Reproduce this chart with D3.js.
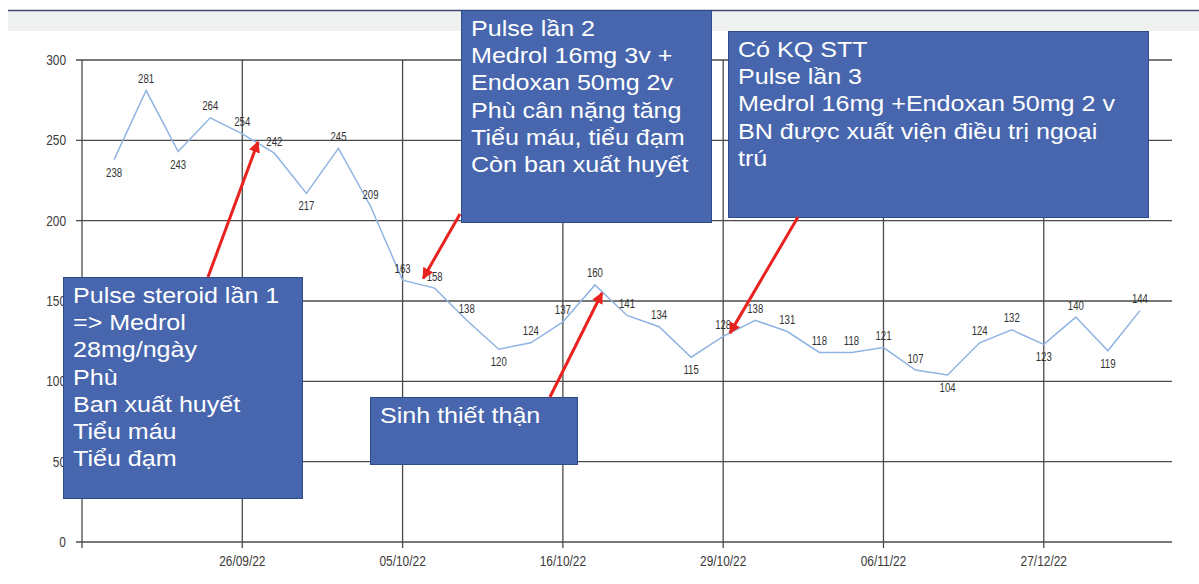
<!DOCTYPE html>
<html>
<head>
<meta charset="utf-8">
<script src="https://cdn.jsdelivr.net/npm/d3@7"></script>
<style>
html,body{margin:0;padding:0;background:#fff;}
svg{display:block;}
</style>
</head>
<body>
<svg id="chart" width="1199" height="584"></svg>
<script>
// ---- data ----
const values = [238,281,243,264,254,242,217,245,209,163,158,138,120,124,137,160,141,134,115,128,138,131,118,118,121,107,104,124,132,123,140,119,144];
const tickIndex = [4,9,14,19,24,29];
const tickLabels = ["26/09/22","05/10/22","16/10/22","29/10/22","06/11/22","27/12/22"];
const yTicks = [0,50,100,150,200,250,300];

const boxTexts = [
  ["Pulse steroid lần 1","=> Medrol","28mg/ngày","Phù","Ban xuất huyết","Tiểu máu","Tiểu đạm"],
  ["Pulse lần 2","Medrol 16mg 3v +","Endoxan 50mg 2v","Phù cân nặng tăng","Tiểu máu, tiểu đạm","Còn ban xuất huyết"],
  ["Có KQ STT","Pulse lần 3","Medrol 16mg +Endoxan 50mg 2 v","BN được xuất viện điều trị ngoại","trú"],
  ["Sinh thiết thận"]
];
// arrow targets in data space: [index position, value]
const arrowTargets = [[4.49,249],[9.64,164],[15.22,155],[19.21,130]];

// ---- layout ----
const boxRects = [
  {x:63,y:277,w:239,h:221},
  {x:461,y:10,w:250,h:212},
  {x:728,y:31,w:420,h:186},
  {x:370,y:397,w:207,h:67}
];
const arrowTails = [[208,277],[460,214],[550,397],[798,217]];

const svg = d3.select("#chart");
const x = d3.scalePoint().domain(d3.range(values.length)).range([82,1172]).padding(1);
const y = d3.scaleLinear().domain([0,300]).range([542,60]);
const xi = i => 82 + (1172-82)/(values.length+1)*(i+1);

// top band
svg.append("rect").attr("x",8).attr("y",10).attr("width",1191).attr("height",21).attr("fill","#eff1f1");
svg.append("line").attr("x1",8).attr("x2",1199).attr("y1",10.5).attr("y2",10.5).attr("stroke","#3d4866").attr("stroke-width",1.5);

const gridColor = "#4a4a4a";
// horizontal grid
svg.append("g").selectAll("line").data(yTicks).join("line")
  .attr("x1",76).attr("x2",1172)
  .attr("y1",d=>y(d)).attr("y2",d=>y(d))
  .attr("stroke",gridColor).attr("stroke-width",1.3);
// y axis line
svg.append("line").attr("x1",82).attr("x2",82).attr("y1",y(300)).attr("y2",y(0)+6)
  .attr("stroke",gridColor).attr("stroke-width",1.3);
// vertical grid
svg.append("g").selectAll("line").data(tickIndex).join("line")
  .attr("x1",d=>x(d)).attr("x2",d=>x(d))
  .attr("y1",y(300)).attr("y2",y(0)+6)
  .attr("stroke",gridColor).attr("stroke-width",1.3);

function sText(g, tx, ty, str, size, sx, anchor, color){
  return g.append("text")
    .attr("transform",`translate(${tx},${ty}) scale(${sx},1)`)
    .attr("text-anchor",anchor)
    .attr("dominant-baseline","central")
    .attr("font-family","'Liberation Sans', Arial, sans-serif")
    .attr("font-size",size)
    .attr("fill",color)
    .text(str);
}
const axisG = svg.append("g");
yTicks.forEach(t => sText(axisG, 66, y(t), t, 14, 0.85, "end", "#3a3a3a"));
tickIndex.forEach((t,i) => sText(axisG, x(t), 561, tickLabels[i], 14, 0.85, "middle", "#3a3a3a"));

// line
const line = d3.line().x((d,i)=>x(i)).y(d=>y(d));
svg.append("path").datum(values).attr("d",line)
  .attr("fill","none").attr("stroke","#8fb4e3").attr("stroke-width",1.5);

// data labels
const lblG = svg.append("g");
values.forEach((v,i) => {
  const prev = i>0 ? values[i-1] : Infinity;
  const next = i<values.length-1 ? values[i+1] : Infinity;
  const below = v < prev && v < next;
  sText(lblG, x(i), y(v) + (below ? 12.5 : -12), v, 13, 0.74, "middle", "#333");
});

// boxes
boxRects.forEach((b,k) => {
  const g = svg.append("g");
  g.append("rect").attr("x",b.x+0.5).attr("y",b.y+0.5).attr("width",b.w).attr("height",b.h)
    .attr("fill","#4766ad").attr("stroke","#2e4a88").attr("stroke-width",1);
  boxTexts[k].forEach((t,j) => {
    g.append("text")
      .attr("transform",`translate(${b.x+10},${b.y+26+j*27.2}) scale(1.14,1)`)
      .attr("font-family","'Liberation Sans', Arial, sans-serif")
      .attr("font-size",22).attr("fill","#fff").text(t);
  });
});

// arrows
const defs = svg.append("defs");
defs.append("marker").attr("id","ah").attr("viewBox","0 0 10 10").attr("refX",9).attr("refY",5)
  .attr("markerWidth",3.8).attr("markerHeight",3.8).attr("orient","auto")
  .append("path").attr("d","M0,0L10,5L0,10Z").attr("fill","#e8231f");
arrowTargets.forEach((t,k) => {
  svg.append("line")
    .attr("x1",arrowTails[k][0]).attr("y1",arrowTails[k][1])
    .attr("x2",xi(t[0])).attr("y2",y(t[1]))
    .attr("stroke","#e8231f").attr("stroke-width",3)
    .attr("marker-end","url(#ah)");
});
</script>
</body>
</html>
